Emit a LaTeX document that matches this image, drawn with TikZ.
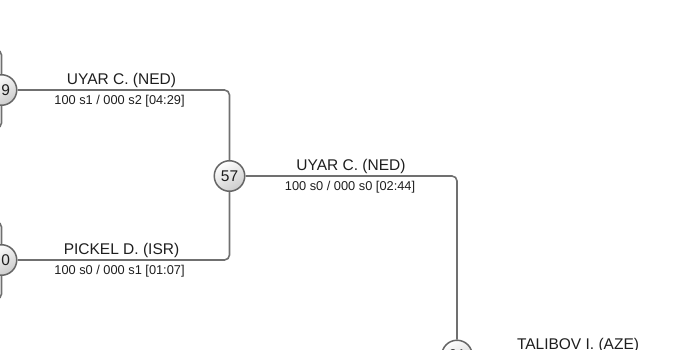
\documentclass[tikz,border=0pt]{standalone}
\usepackage{fontspec}
\setmainfont{Liberation Sans}
\definecolor{linegray}{HTML}{707070}
\definecolor{circgray}{HTML}{666666}
\definecolor{txt}{HTML}{1E1E1E}
\begin{document}
\begin{tikzpicture}[x=1pt,y=-1pt,
  conn/.style={draw=linegray, line width=1.6pt, rounded corners=5pt},
  seed/.style={circle, draw=circgray, line width=1.5pt, minimum size=30.5pt, inner sep=0pt,
    top color=white, bottom color=black!20, shading angle=30,
    font=\fontsize{15.5}{18}\selectfont, text=txt},
  pname/.style={anchor=base, font=\fontsize{15.5}{18}\selectfont, text=txt, inner sep=0pt},
  pscore/.style={anchor=base, font=\fontsize{12.8}{15}\selectfont, text=txt, inner sep=0pt}]
\clip (0,0) rectangle (685,350);
% off-picture ends of earlier rounds
\coordinate (a1) at (-30,50);
\coordinate (a2) at (-30,128);
\coordinate (b1) at (-30,222);
\coordinate (b2) at (-30,299);
\coordinate (e1) at (720,355);
% connectors (drawn first, circles on top)
\node[seed] (n9) at (1.5,90) {\phantom{4}9};
\node[seed] (n0) at (1.5,260) {\phantom{5}0};
\node[seed] (n57) at (229.5,176) {57};
\node[seed] (n61) at (457,355.5) {61};
\begin{scope}[on background layer/.style={}]
\end{scope}
\draw[conn] (a1) -| (n9);
\draw[conn] (a2) -| (n9);
\draw[conn] (b1) -| (n0);
\draw[conn] (b2) -| (n0);
\draw[conn] (n9) -| (n57);
\draw[conn] (n0) -| (n57);
\draw[conn] (n57) -| (n61);
\draw[conn] (n61) -- (e1);
% labels
\node[pname] (l1) at (121.5,84.5) {UYAR C. (NED)};
\node[pscore] (s1) at (119.5,105) {100 s1 / 000 s2 [04:29]};
\node[pname] (l2) at (121.5,254.5) {PICKEL D. (ISR)};
\node[pscore] (s2) at (119.5,274.8) {100 s0 / 000 s1 [01:07]};
\node[pname] (l3) at (351,170.8) {UYAR C. (NED)};
\node[pscore] (s3) at (350,190.8) {100 s0 / 000 s0 [02:44]};
\node[pname] (l4) at (578,349.5) {TALIBOV I. (AZE)};
\end{tikzpicture}
\end{document}
